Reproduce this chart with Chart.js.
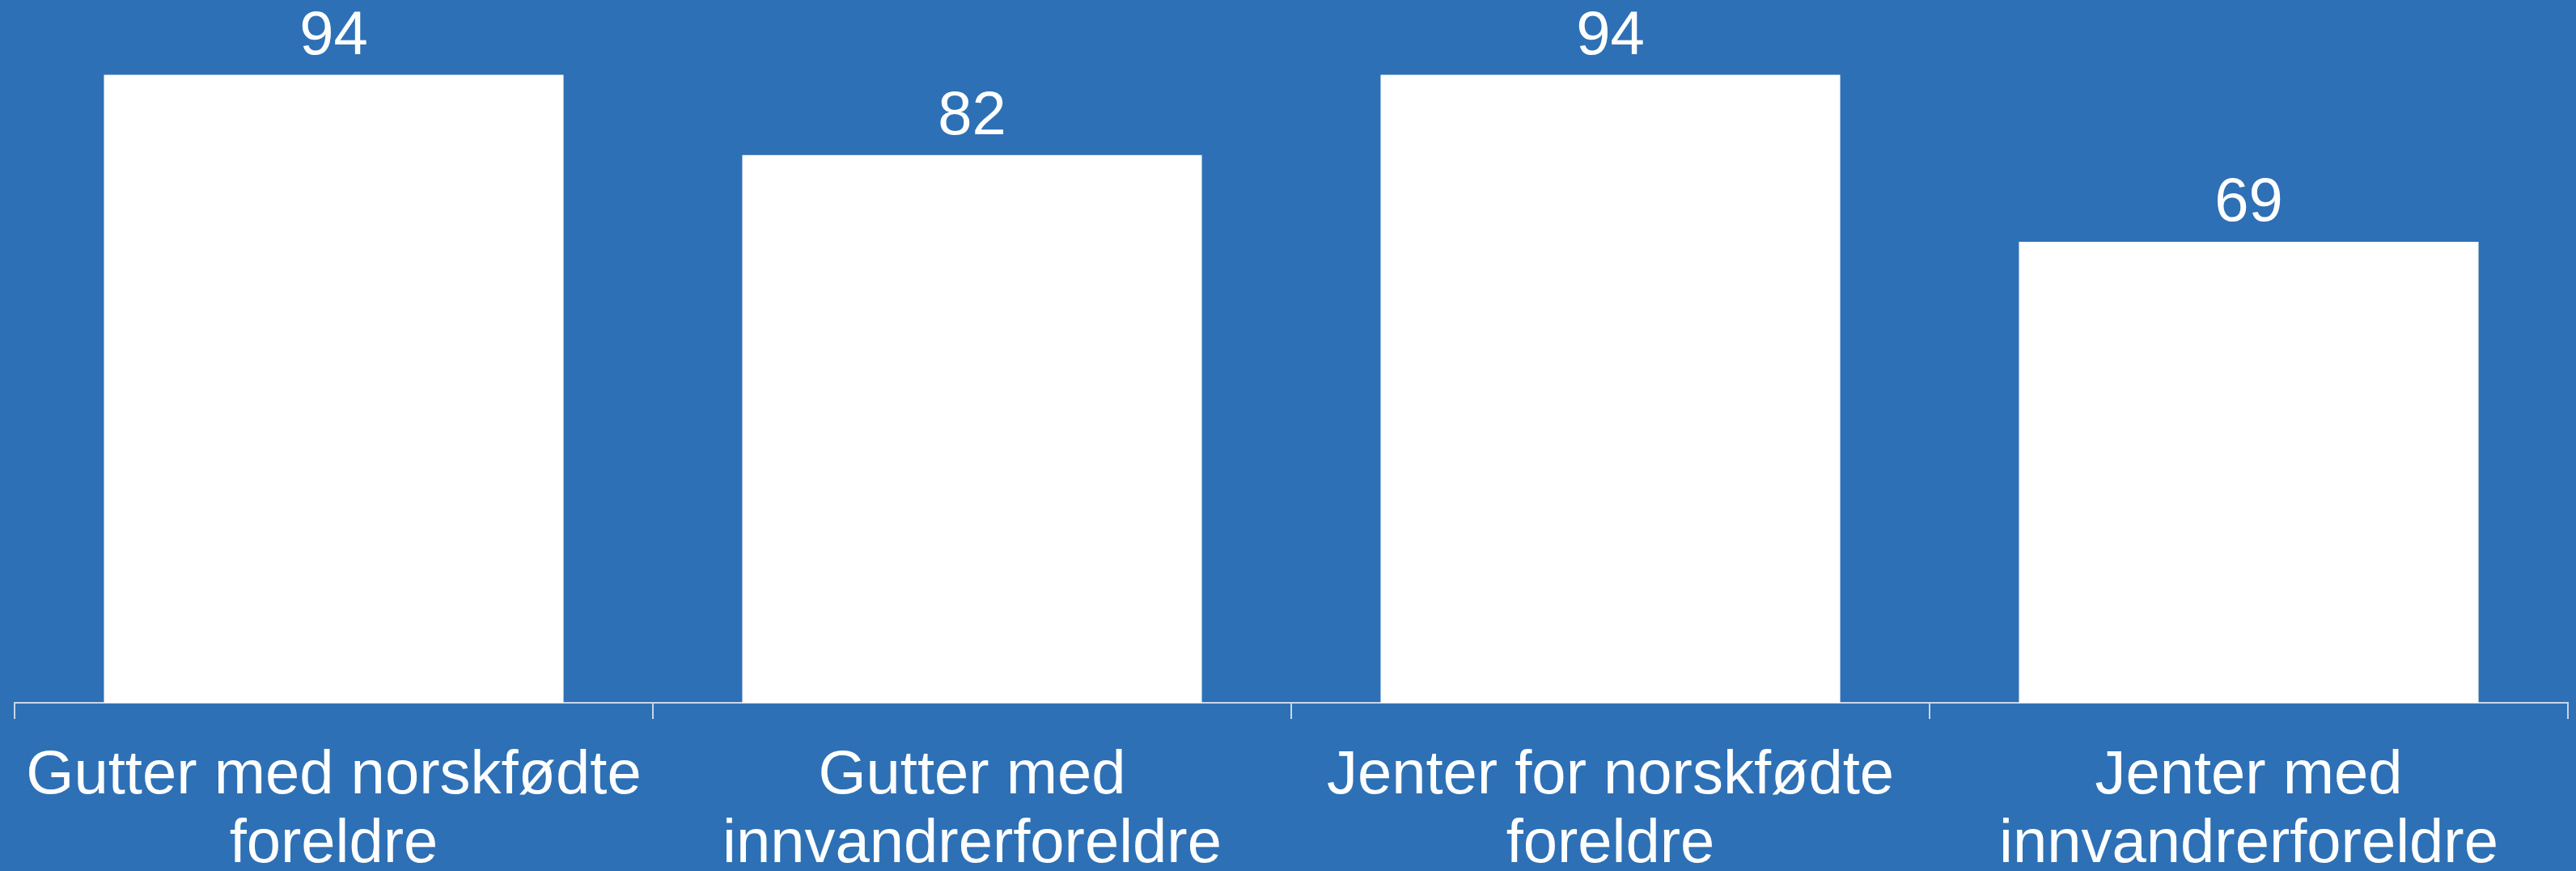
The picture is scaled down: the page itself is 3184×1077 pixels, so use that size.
<!DOCTYPE html>
<html>
<head>
<meta charset="utf-8">
<script src="https://cdn.jsdelivr.net/npm/chart.js@4.4.1/dist/chart.umd.min.js"></script>
<style>
  html, body { margin: 0; padding: 0; background: #2E70B5; }
  #wrap { width: 3184px; height: 1077px; position: relative; }
  canvas { display: block; }
</style>
</head>
<body>
<div id="wrap"><canvas id="c" width="3184" height="1077"></canvas></div>
<script>
const categories = [
  ["Gutter med norskfødte", "foreldre"],
  ["Gutter med", "innvandrerforeldre"],
  ["Jenter for norskfødte", "foreldre"],
  ["Jenter med", "innvandrerforeldre"]
];
const values = [94, 82, 94, 69];
const yMin = 0;
const yMax = 100;

const FONT = "'Liberation Sans', Arial, sans-serif";
const AXIS_COLOR = "#C9D6E8";

const valueLabels = {
  id: 'valueLabels',
  afterDatasetsDraw(chart) {
    const ctx = chart.ctx;
    const meta = chart.getDatasetMeta(0);
    ctx.save();
    ctx.fillStyle = '#FFFFFF';
    ctx.font = '76px ' + FONT;
    ctx.textAlign = 'center';
    ctx.textBaseline = 'alphabetic';
    meta.data.forEach((bar, i) => {
      ctx.fillText(String(values[i]), bar.x, bar.y - 26);
    });
    ctx.restore();
  }
};

new Chart(document.getElementById('c'), {
  type: 'bar',
  data: {
    labels: categories,
    datasets: [{
      data: values,
      backgroundColor: '#FFFFFF',
      borderWidth: 0,
      barPercentage: 0.72,
      categoryPercentage: 1.0
    }]
  },
  options: {
    responsive: false,
    animation: false,
    devicePixelRatio: 1,
    layout: { padding: { left: 18, right: 10, top: 43, bottom: 0 } },
    plugins: { legend: { display: false }, tooltip: { enabled: false } },
    scales: {
      x: {
        offset: true,
        grid: {
          display: true,
          offset: true,
          drawOnChartArea: false,
          drawTicks: true,
          tickLength: 20,
          color: AXIS_COLOR,
          lineWidth: 2
        },
        border: { display: true, color: AXIS_COLOR, width: 2 },
        ticks: {
          color: '#FFFFFF',
          font: { family: FONT, size: 76, lineHeight: 1.12 },
          padding: 28,
          maxRotation: 0,
          autoSkip: false
        },
        afterFit(scale) { scale.height = 1077 - 869; }
      },
      y: {
        display: false,
        min: yMin,
        max: yMax
      }
    }
  },
  plugins: [valueLabels]
});
</script>
</body>
</html>
